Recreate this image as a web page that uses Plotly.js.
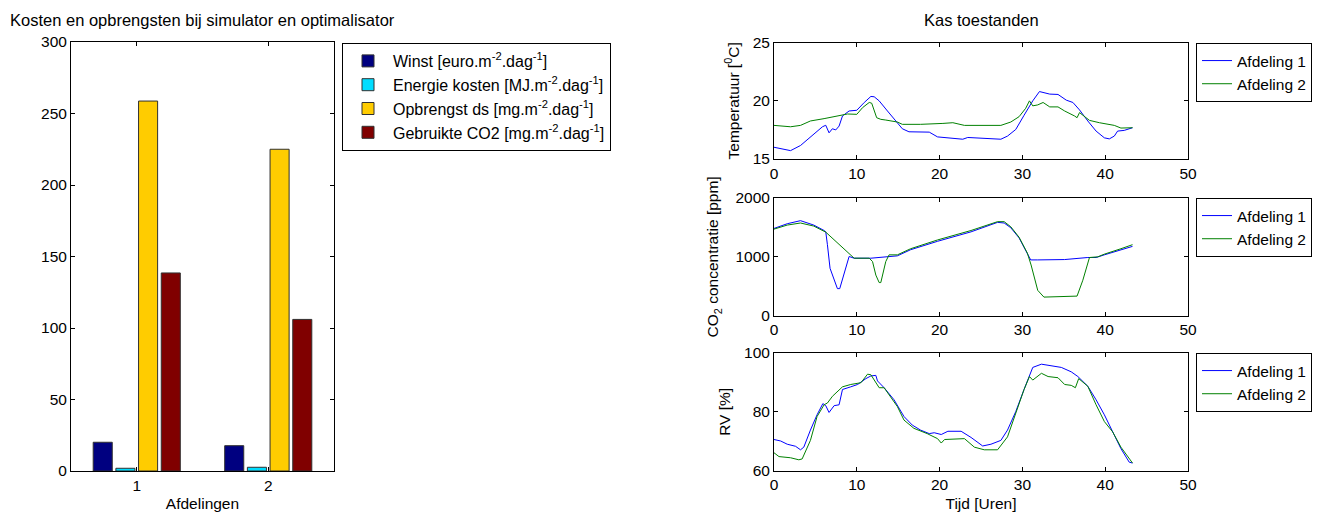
<!DOCTYPE html>
<html>
<head>
<meta charset="utf-8">
<script src="https://cdn.plot.ly/plotly-3.0.1.min.js"></script>
<style>html,body{margin:0;padding:0;background:#fff;}#chart{width:1323px;height:513px;}</style>
</head>
<body>
<div id="chart"></div>
<script>
// ---- Bar chart data ----
const categories = [1, 2];
const barNames = [
  'Winst [euro.m<sup>-2</sup>.dag<sup>-1</sup>]',
  'Energie kosten [MJ.m<sup>-2</sup>.dag<sup>-1</sup>]',
  'Opbrengst ds [mg.m<sup>-2</sup>.dag<sup>-1</sup>]',
  'Gebruikte CO2 [mg.m<sup>-2</sup>.dag<sup>-1</sup>]'
];
const winst = [20.1, 17.7];
const energieKosten = [1.9, 2.6];
const opbrengstDs = [258.7, 225.0];
const gebruikteCO2 = [138.5, 106.0];
const barColors = ['#000080', '#00DDFF', '#FFCC00', '#800000'];

// ---- Temperature ----
const tempA1_t = [0,2.0,3.2,4.8,5.85,6.25,6.65,7.05,7.46,7.86,8.27,9.07,10,10.9,11.7,12.1,12.7,13.7,14.7,15.5,16.3,17.7,18.75,19.75,21.8,22.8,23.4,25.8,27.4,28.2,29.2,30.2,31.25,32.06,32.7,33.3,34.3,35.3,36.1,36.9,37.9,38.9,39.9,40.5,41.1,41.5,42.3,43.3];
const tempA1 = [16.01,15.72,16.16,17.1,17.77,17.9,17.25,17.6,17.5,17.83,18.7,19.13,19.19,19.86,20.38,20.35,20.0,19.13,18.27,17.6,17.34,17.34,17.31,16.9,16.79,16.7,16.85,16.79,16.7,16.97,17.54,18.76,20.0,20.8,20.72,20.58,20.55,20.06,19.86,19.22,18.27,17.4,16.82,16.73,16.97,17.4,17.46,17.69];
const tempA2_t = [0,2.0,3.2,4.4,6.05,7.66,8.87,10,10.7,11.5,11.8,12.4,12.9,13.5,14.9,15.5,17.7,20.4,21.6,23.0,27.4,28.6,29.6,30.4,30.85,31.25,31.85,32.5,33.3,34.3,35.1,36.3,36.6,36.9,37.5,38.1,39.3,41.1,41.9,43.3];
const tempA2 = [17.89,17.77,17.89,18.27,18.47,18.7,18.87,18.84,19.42,19.86,19.8,18.55,18.41,18.35,18.18,17.98,17.98,18.06,18.12,17.89,17.89,18.18,18.64,19.36,20.0,19.57,19.65,19.86,19.48,19.48,19.13,18.7,18.55,18.99,18.64,18.32,18.12,17.89,17.66,17.69];

// ---- CO2 ----
const co2A1_t = [0,1.6,3.2,4.8,6.05,6.25,6.45,6.77,7.66,7.94,9.07,9.68,11.7,12.5,14.1,14.9,16.5,19.75,23.8,27.0,27.8,28.6,29.6,30.4,31.0,31.85,35.1,37.9,38.9,39.9,41.9,43.3];
const co2A1 = [1483,1563,1615,1540,1448,1425,1207,805,460,460,1006,977,977,989,1006,1017,1121,1264,1425,1586,1575,1494,1322,1092,948,948,954,989,989,1034,1121,1178];
const co2A2_t = [0,1.6,3.2,4.8,6.25,7.66,8.87,9.68,11.5,11.9,12.3,12.7,12.9,13.5,13.9,14.9,16.5,19.75,23.8,27.0,27.8,28.6,29.6,30.6,31.05,31.85,32.6,36.6,37.3,38.1,39.1,39.9,41.9,43.3];
const co2A2 = [1471,1540,1575,1523,1420,1236,1075,977,977,920,690,563,563,920,1034,1034,1138,1287,1448,1598,1598,1511,1333,1063,862,431,316,333,603,989,1000,1046,1138,1207];

// ---- RV ----
const rvA1_t = [0,0.8,1.6,2.6,3.2,3.6,4.4,5.2,5.9,6.25,6.65,7.26,7.86,8.27,9.27,10.1,11.1,11.7,12.3,12.5,13.3,14.5,15.7,16.7,17.7,18.75,19.35,20.2,21.0,22.6,23.8,25.2,26.2,27.4,28.2,29.2,30.2,31.25,32.3,33.5,34.7,35.9,36.7,37.9,38.9,39.9,40.9,41.9,42.9,43.3];
const rvA1 = [70.6,70.1,69.0,68.3,67.1,68.0,73.8,79.0,82.8,82.1,79.8,82.1,82.4,87.6,88.5,89.3,91.3,92.2,92.4,90.5,88.2,84.1,78.4,75.5,73.8,72.6,72.9,72.3,73.4,73.4,71.3,68.4,69.0,70.3,73.8,80.1,87.6,95.1,96.2,95.6,95.1,93.6,92.0,88.7,84.1,79.0,73.2,67.5,62.9,62.6];
const rvA2_t = [0,0.6,2.0,3.0,3.4,4.4,5.2,6.05,6.45,7.06,8.27,9.27,10.5,11.3,11.7,12.1,12.7,13.3,14.9,15.7,16.9,18.5,19.75,20.2,20.6,23.0,24.2,25.4,27.0,28.2,29.2,30.2,30.85,31.25,32.3,33.1,34.3,35.1,35.9,36.4,36.8,37.9,38.9,39.9,40.9,41.9,43.3];
const rvA2 = [66.1,64.8,64.4,63.7,64.0,70.3,78.4,82.4,83.0,85.3,88.5,89.3,89.9,92.8,92.6,90.8,88.2,88.2,81.8,77.2,74.4,72.6,70.9,69.4,70.6,70.9,68.0,67.1,67.1,71.5,79.5,87.6,92.0,90.8,93.1,92.0,91.6,89.3,89.0,88.2,91.3,88.7,82.4,76.7,73.2,68.0,62.6];

const lineNames = ['Afdeling 1', 'Afdeling 2'];
const lineColors = ['#0000FF', '#008000'];
const timeTicks = [0, 10, 20, 30, 40, 50];

const W = 1323, H = 513;
const fx = p => p / W;
const fy = p => 1 - p / H;

const FONT = 'Liberation Sans, Arial, sans-serif';
const FS = 15.5;

const traces = [];
const barSeries = [winst, energieKosten, opbrengstDs, gebruikteCO2];
barSeries.forEach((vals, i) => {
  traces.push({
    type: 'bar', x: categories, y: vals, name: barNames[i],
    marker: {color: barColors[i], line: {color: '#303030', width: 1}},
    xaxis: 'x', yaxis: 'y', legend: 'legend', hoverinfo: 'x+y'
  });
});

const panels = [
  {ax: '2', legend: 'legend2', t: [tempA1_t, tempA2_t], y: [tempA1, tempA2]},
  {ax: '3', legend: 'legend3', t: [co2A1_t, co2A2_t], y: [co2A1, co2A2]},
  {ax: '4', legend: 'legend4', t: [rvA1_t, rvA2_t], y: [rvA1, rvA2]}
];
panels.forEach(p => {
  for (let k = 0; k < 2; k++) {
    traces.push({
      type: 'scatter', mode: 'lines', x: p.t[k], y: p.y[k], name: lineNames[k],
      line: {color: lineColors[k], width: 1},
      xaxis: 'x' + p.ax, yaxis: 'y' + p.ax, legend: p.legend
    });
  }
});

const axBase = {
  showline: true, linecolor: '#000', linewidth: 1, mirror: 'ticks',
  ticks: 'inside', ticklen: 4, tickcolor: '#000', showgrid: false, zeroline: false,
  tickfont: {family: FONT, size: FS, color: '#000'}, fixedrange: true
};

const legBase = {
  bgcolor: '#fff', bordercolor: '#000', borderwidth: 1,
  font: {family: FONT, size: FS, color: '#000'},
  xanchor: 'left', yanchor: 'top', tracegroupgap: 0
};

const rx = [fx(774), fx(1188)];
const tFont = {family: FONT, size: FS, color: '#000'};

const layout = {
  width: W, height: H,
  margin: {l: 0, r: 0, t: 0, b: 0},
  paper_bgcolor: '#fff', plot_bgcolor: '#fff',
  font: {family: FONT, size: FS, color: '#000'},
  showlegend: true,
  barmode: 'group', bargap: 0.31, bargroupgap: 0.16,
  xaxis: Object.assign({}, axBase, {
    domain: [fx(71), fx(334)], range: [0.5, 2.5], tickvals: categories,
    ticktext: categories.map(String), anchor: 'y',
    title: {text: 'Afdelingen', font: tFont, standoff: 5}
  }),
  yaxis: Object.assign({}, axBase, {
    domain: [fy(471), fy(42)], range: [0, 300], tickvals: [0, 50, 100, 150, 200, 250, 300], anchor: 'x'
  }),
  xaxis2: Object.assign({}, axBase, {domain: rx, range: [0, 50], tickvals: timeTicks, anchor: 'y2'}),
  yaxis2: Object.assign({}, axBase, {
    domain: [fy(159), fy(42.7)], range: [15, 25], tickvals: [15, 20, 25], anchor: 'x2',
    title: {text: 'Temperatuur [<sup>0</sup>C]', font: tFont, standoff: 9}
  }),
  xaxis3: Object.assign({}, axBase, {domain: rx, range: [0, 50], tickvals: timeTicks, anchor: 'y3'}),
  yaxis3: Object.assign({}, axBase, {
    domain: [fy(315.7), fy(198)], range: [0, 2000], tickvals: [0, 1000, 2000], anchor: 'x3',
    title: {text: 'CO<sub>2</sub> concentratie [ppm]', font: tFont, standoff: 12}
  }),
  xaxis4: Object.assign({}, axBase, {
    domain: rx, range: [0, 50], tickvals: timeTicks, anchor: 'y4',
    title: {text: 'Tijd [Uren]', font: tFont, standoff: 5}
  }),
  yaxis4: Object.assign({}, axBase, {
    domain: [fy(470.7), fy(353)], range: [60, 100], tickvals: [60, 80, 100], anchor: 'x4',
    title: {text: 'RV [%]', font: tFont, standoff: 9}
  }),
  legend: Object.assign({}, legBase, {x: fx(342), y: fy(43), itemwidth: 40,
    font: {family: FONT, size: 16, color: '#000'}}),
  legend2: Object.assign({}, legBase, {x: fx(1196), y: fy(43)}),
  legend3: Object.assign({}, legBase, {x: fx(1196), y: fy(198)}),
  legend4: Object.assign({}, legBase, {x: fx(1196), y: fy(353)}),
  annotations: [
    {text: 'Kosten en opbrengsten bij simulator en optimalisator', xref: 'paper', yref: 'paper',
     x: fx(202.5), y: fy(20), xanchor: 'center', yanchor: 'middle', showarrow: false,
     font: {family: FONT, size: 16.5, color: '#000'}},
    {text: 'Kas toestanden', xref: 'paper', yref: 'paper',
     x: fx(981), y: fy(20), xanchor: 'center', yanchor: 'middle', showarrow: false,
     font: {family: FONT, size: 16.5, color: '#000'}}
  ]
};

Plotly.newPlot('chart', traces, layout, {displayModeBar: false, staticPlot: true});
</script>
</body>
</html>
